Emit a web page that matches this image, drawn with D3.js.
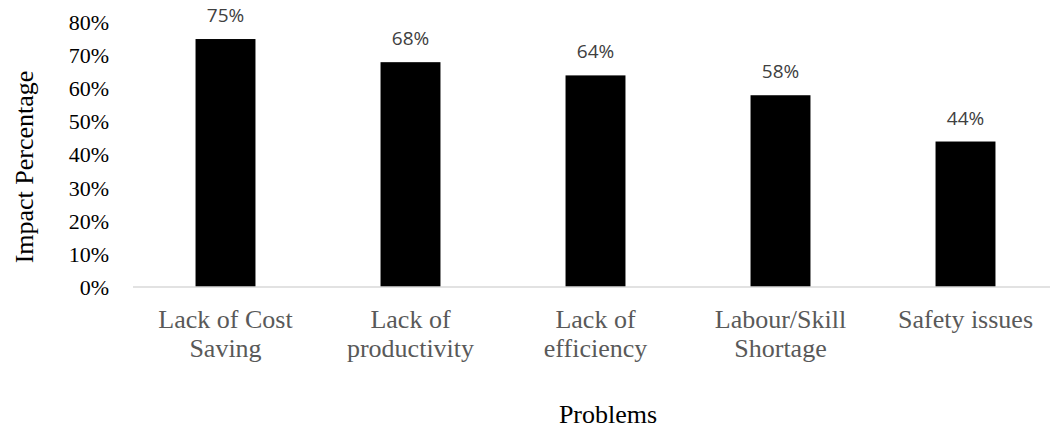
<html>
  <head>
    <script src="https://d3js.org/d3.v7.min.js"></script>
  </head>
  <style type="text/css">
    body { margin: 0; background: #fff; }
    svg { font-family: "Liberation Serif", "Times New Roman", serif; }
    .tick-label { font-size: 22px; fill: #000; }
    .cat-label { font-size: 26px; fill: #595959; }
    .value-label { font-family: "Open Sans", sans-serif; font-size: 19px; fill: #404040; }
    .axis-title { font-size: 26px; fill: #000; }
  </style>
  <body>
    <div id="chart"></div>
  </body>
  <script type="text/javascript">
    var categories = [["Lack of Cost", "Saving"], ["Lack of", "productivity"], ["Lack of", "efficiency"], ["Labour/Skill", "Shortage"], ["Safety issues"]];
    var values = [0.75, 0.68, 0.64, 0.58, 0.44];
    var yTicks = [0, 0.1, 0.2, 0.3, 0.4, 0.5, 0.6, 0.7, 0.8];

    var width = 1050, height = 429;
    var plotLeft = 133, plotRight = 1058, plotTop = 22.5, plotBottom = 287;

    var svg = d3.select("#chart").append("svg")
      .attr("width", width)
      .attr("height", height);

    var names = categories.map(d => d.join(" "));

    /* Scale */
    var xScale = d3.scaleBand()
      .domain(names)
      .range([plotLeft, plotRight])
      .paddingInner(0.676)
      .paddingOuter(0.338);

    var yScale = d3.scaleLinear()
      .domain([0, 0.8])
      .range([plotBottom, plotTop]);

    var pct = d3.format(".0%");

    /* y tick labels */
    svg.append("g").selectAll("text")
      .data(yTicks).enter()
      .append("text")
      .attr("class", "tick-label")
      .attr("x", 109)
      .attr("y", d => yScale(d))
      .attr("dy", "0.35em")
      .attr("text-anchor", "end")
      .text(d => pct(d));

    /* bars */
    svg.append("g").selectAll("rect")
      .data(values).enter()
      .append("rect")
      .attr("x", (d, i) => xScale(names[i]))
      .attr("y", d => yScale(d))
      .attr("width", xScale.bandwidth())
      .attr("height", d => plotBottom - yScale(d))
      .attr("fill", "#000");

    /* value labels */
    svg.append("g").selectAll("text")
      .data(values).enter()
      .append("text")
      .attr("class", "value-label")
      .attr("x", (d, i) => xScale(names[i]) + xScale.bandwidth() / 2)
      .attr("y", d => yScale(d) - 17)
      .attr("text-anchor", "middle")
      .text(d => pct(d));

    /* x axis line */
    svg.append("line")
      .attr("x1", plotLeft).attr("x2", plotRight)
      .attr("y1", plotBottom).attr("y2", plotBottom)
      .attr("stroke", "#d9d9d9")
      .attr("stroke-width", 1.5);

    /* category labels */
    var cat = svg.append("g").selectAll("text")
      .data(categories).enter()
      .append("text")
      .attr("class", "cat-label")
      .attr("text-anchor", "middle")
      .attr("x", (d, i) => xScale(names[i]) + xScale.bandwidth() / 2)
      .attr("y", 328);
    cat.selectAll("tspan")
      .data(d => d).enter()
      .append("tspan")
      .attr("x", function() { return d3.select(this.parentNode).attr("x"); })
      .attr("dy", (d, i) => i == 0 ? 0 : 29)
      .text(d => d);

    /* axis titles */
    svg.append("text")
      .attr("class", "axis-title")
      .attr("text-anchor", "middle")
      .attr("transform", "translate(33, 167) rotate(-90)")
      .text("Impact Percentage");

    svg.append("text")
      .attr("class", "axis-title")
      .attr("text-anchor", "middle")
      .attr("x", 608)
      .attr("y", 423)
      .text("Problems");
  </script>
</html>
